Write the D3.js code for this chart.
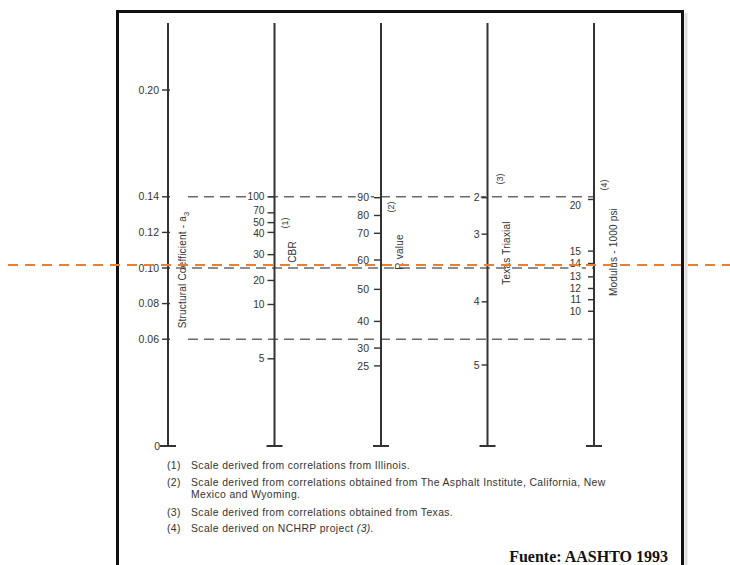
<!DOCTYPE html>
<html>
<head>
<meta charset="utf-8">
<script src="https://cdn.jsdelivr.net/npm/d3@7"></script>
<style>
  html, body { margin: 0; padding: 0; background: #fff; }
  svg { display: block; }
</style>
</head>
<body>
<svg id="chart" width="730" height="565"></svg>
<script>
// ---------- DATA ----------
const scaleNames = ["a3", "CBR", "R", "Texas", "Modulus"];

// Structural coefficient a3 (linear base scale)
const a3Ticks  = [0.20, 0.14, 0.12, 0.10, 0.08, 0.06];
const a3Labels = ["0.20", "0.14", "0.12", "0.10", "0.08", "0.06"];

// CBR scale: tick values and their equivalent a3
const cbrTicks = [100, 70, 50, 40, 30, 20, 10, 5];
const cbrA3    = [0.140, 0.131, 0.1255, 0.120, 0.1075, 0.093, 0.0795, 0.049];

// R-value scale
const rTicks = [90, 80, 70, 60, 50, 40, 30, 25];
const rA3    = [0.1395, 0.1295, 0.1195, 0.1045, 0.0880, 0.0700, 0.0550, 0.0450];

// Texas triaxial scale
const texTicks = [2, 3, 4, 5];
const texA3    = [0.1395, 0.1190, 0.0810, 0.0455];

// Modulus (1000 psi) scale
const modTicks = [20, 15, 14, 13, 12, 11, 10];
const modA3    = [0.1385, 0.1095, 0.1025, 0.0950, 0.0885, 0.0822, 0.0757];

// Guide (dashed) lines, in a3 units
const guideA3 = [0.14, 0.10, 0.06];
// Highlighted reading (orange dashed line), in a3 units
const selectedA3 = [0.1017];

const axisTitles = ["Structural Coefficient - a", "CBR", "R value", "Texas Triaxial", "Modulus - 1000 psi"];
const axisNotes  = [null, "(1)", "(2)", "(3)", "(4)"];

const footNums  = ["(1)", "(2)", "", "(3)", "(4)"];
const footTexts = [
  "Scale derived from correlations from Illinois.",
  "Scale derived from correlations obtained from The Asphalt Institute, California, New",
  "Mexico and Wyoming.",
  "Scale derived from correlations obtained from Texas.",
  "Scale derived on NCHRP project "
];
const sourceText = "Fuente: AASHTO 1993";

// ---------- LAYOUT (styles / nudges, not data) ----------
const labelNudge = {
  CBR: { 70: -2.5, 40: 1 },
  Modulus: { 20: 6 }
};

// ---------- DRAW ----------
const svg = d3.select("#chart");
const ink = "#333";
const sans = "'Liberation Sans', Arial, Helvetica, sans-serif";

const x = d3.scalePoint().domain(scaleNames).range([168, 594]);
const y = d3.scaleLinear().domain([0, 0.20]).range([446, 90]);
const yTop = 23, yBot = 446;

// frame
svg.append("line").attr("x1", 686).attr("x2", 686).attr("y1", 13).attr("y2", 565)
  .attr("stroke", "#ddd").attr("stroke-width", 3);
svg.append("rect").attr("x", 117.5).attr("y", 11.5).attr("width", 565).attr("height", 570)
  .attr("fill", "none").attr("stroke", "#111").attr("stroke-width", 3);

// dashed guide lines
svg.append("g").selectAll("line").data(guideA3).join("line")
  .attr("x1", (d, i) => x("a3") + (i === 1 ? 8 : 20)).attr("x2", x("Modulus"))
  .attr("y1", d => y(d)).attr("y2", d => y(d))
  .attr("stroke", "#6a6a6a").attr("stroke-width", 1.6)
  .attr("stroke-dasharray", "10,6");

// vertical axes
const axesG = svg.append("g");
scaleNames.forEach(n => {
  axesG.append("line").attr("x1", x(n)).attr("x2", x(n)).attr("y1", yTop).attr("y2", yBot)
    .attr("stroke", ink).attr("stroke-width", 2);
  axesG.append("line").attr("x1", x(n) - 8).attr("x2", x(n) + 8).attr("y1", yBot).attr("y2", yBot)
    .attr("stroke", ink).attr("stroke-width", 2);
});

// tick helper
function drawTicks(name, vals, labels, posFn, tickLen, gap, fs) {
  const g = svg.append("g");
  const cx = x(name);
  const nudge = labelNudge[name] || {};
  g.selectAll("line").data(vals).join("line")
    .attr("x1", cx - tickLen).attr("x2", cx + (name === "a3" ? 2 : 0))
    .attr("y1", d => posFn(d)).attr("y2", d => posFn(d))
    .attr("stroke", ink).attr("stroke-width", 1.4);
  g.selectAll("text").data(vals).join("text")
    .attr("x", cx - tickLen - gap).attr("y", d => posFn(d) + (nudge[d] || 0)).attr("dy", "0.35em")
    .attr("text-anchor", "end")
    .attr("font-family", sans).attr("font-size", fs).attr("fill", ink)
    .attr("stroke", "#fff").attr("stroke-width", 4).attr("paint-order", "stroke")
    .text((d, i) => labels[i]);
}

drawTicks("a3", a3Ticks, a3Labels, d => y(d), 6, 3, 10.5);

const cbrScale = d3.scaleLinear().domain(cbrTicks).range(cbrA3.map(v => y(v)));
drawTicks("CBR", cbrTicks, cbrTicks.map(String), d => cbrScale(d), 7, 3, 10.2);

const rScale = d3.scaleLinear().domain(rTicks).range(rA3.map(v => y(v)));
drawTicks("R", rTicks, rTicks.map(String), d => rScale(d), 7, 5, 10.5);

const texScale = d3.scaleLinear().domain(texTicks).range(texA3.map(v => y(v)));
drawTicks("Texas", texTicks, texTicks.map(String), d => texScale(d), 6, 2, 10.5);

const modScale = d3.scaleLinear().domain(modTicks).range(modA3.map(v => y(v)));
drawTicks("Modulus", modTicks, modTicks.map(String), d => modScale(d), 6, 7, 10.2);

// zero label on a3 axis
svg.append("text").attr("x", x("a3") - 8).attr("y", y(0)).attr("dy", "0.35em")
  .attr("text-anchor", "end").attr("font-family", sans).attr("font-size", 10.5).attr("fill", ink)
  .text("0");

// axis titles (rotated)
const titlePos = [
  { dx: 18, cy: 270 },
  { dx: 21, cy: 252 },
  { dx: 22, cy: 252 },
  { dx: 22, cy: 253 },
  { dx: 23, cy: 252 }
];
const notePos = [null, { dx: 13, cy: 223 }, { dx: 13, cy: 207 }, { dx: 15, cy: 179 }, { dx: 13, cy: 185 }];

scaleNames.forEach((n, i) => {
  const tp = titlePos[i];
  const t = svg.append("text")
    .attr("transform", `translate(${x(n) + tp.dx},${tp.cy}) rotate(-90)`)
    .attr("text-anchor", "middle")
    .attr("font-family", sans).attr("font-size", 10).attr("fill", ink)
    .attr("letter-spacing", 0.2)
    .text(axisTitles[i]);
  if (n === "a3") {
    t.append("tspan").attr("dy", 3).attr("font-size", 7.5).text("3");
  }
  if (axisNotes[i]) {
    svg.append("text")
      .attr("transform", `translate(${x(n) + notePos[i].dx},${notePos[i].cy}) rotate(-90)`)
      .attr("text-anchor", "middle")
      .attr("font-family", sans).attr("font-size", 9).attr("fill", ink)
      .text(axisNotes[i]);
  }
});

// orange reading line
svg.append("g").selectAll("line").data(selectedA3).join("line")
  .attr("x1", 8).attr("x2", 730)
  .attr("y1", d => y(d)).attr("y2", d => y(d))
  .attr("stroke", "#ED7D31").attr("stroke-width", 2)
  .attr("stroke-dasharray", "10,7");

// footnotes
const footY = [469, 486, 498, 516, 532];
const fg = svg.append("g").attr("font-family", sans).attr("font-size", 10.4)
  .attr("letter-spacing", 0.38).attr("fill", ink);
footTexts.forEach((t, i) => {
  if (footNums[i]) fg.append("text").attr("x", 167).attr("y", footY[i]).text(footNums[i]);
  const tx = fg.append("text").attr("x", 191).attr("y", footY[i]).text(t);
  if (i === 4) tx.append("tspan").attr("font-style", "italic").text("(3).");
});

// source
svg.append("text").attr("x", 668).attr("y", 562).attr("text-anchor", "end")
  .attr("font-family", "'Liberation Serif', 'Times New Roman', serif")
  .attr("font-weight", "bold").attr("font-size", 16).attr("fill", "#111")
  .text(sourceText);
</script>
</body>
</html>
